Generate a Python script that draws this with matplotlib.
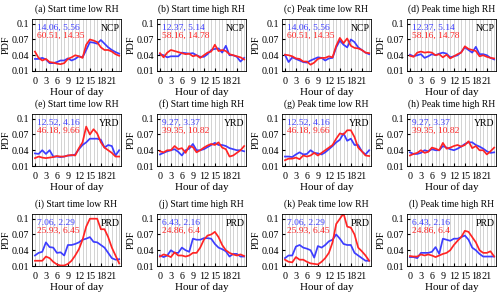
import matplotlib
matplotlib.use("Agg")
import matplotlib.pyplot as plt
import numpy as np

plt.rcParams['font.family'] = ['Liberation Serif', 'DejaVu Serif']

hours = list(range(24))

titles = ["(a) Start time low RH", "(b) Start time high RH", "(c) Peak time low RH", "(d) Peak time high RH",
          "(e) Start time low RH", "(f) Start time high RH", "(g) Peak time low RH", "(h) Peak time high RH",
          "(i) Start time low RH", "(j) Start time high RH", "(k) Peak time low RH", "(l) Peak time high RH"]
regions = ["NCP"] * 4 + ["YRD"] * 4 + ["PRD"] * 4
blue_text = ["14.06, 5.56", "12.37, 5.14", "14.06, 5.56", "12.37, 5.14",
             "12.52, 4.16", "9.27, 3.37", "12.52, 4.16", "9.27, 3.37",
             "7.06, 2.29", "6.43, 2.16", "7.06, 2.29", "6.43, 2.16"]
red_text = ["60.51, 14.35", "58.16, 14.78", "60.51, 14.35", "58.16, 14.78",
            "46.18, 9.66", "39.35, 10.82", "46.18, 9.66", "39.35, 10.82",
            "25.93, 6.45", "24.86, 6.4", "25.93, 6.45", "24.86, 6.4"]

blue_a = [0.033,0.033,0.035,0.032,0.025,0.025,0.027,0.030,0.030,0.034,0.030,0.033,0.038,0.036,0.050,0.065,0.064,0.062,0.069,0.062,0.055,0.050,0.046,0.043]
red_a = [0.047,0.035,0.030,0.033,0.027,0.026,0.024,0.023,0.025,0.033,0.036,0.040,0.038,0.035,0.060,0.070,0.068,0.065,0.055,0.050,0.050,0.047,0.042,0.039]
blue_b = [0.042,0.040,0.036,0.038,0.038,0.038,0.045,0.044,0.043,0.044,0.040,0.037,0.037,0.042,0.050,0.052,0.053,0.045,0.058,0.040,0.040,0.037,0.028,0.035]
red_b = [0.044,0.036,0.045,0.050,0.048,0.046,0.044,0.042,0.043,0.038,0.040,0.035,0.040,0.045,0.047,0.060,0.048,0.050,0.048,0.042,0.040,0.038,0.036,0.032]
blue_c = [0.041,0.027,0.036,0.033,0.030,0.027,0.026,0.030,0.033,0.036,0.035,0.030,0.034,0.035,0.055,0.068,0.060,0.055,0.070,0.065,0.055,0.050,0.045,0.042]
red_c = [0.041,0.040,0.038,0.034,0.033,0.028,0.028,0.022,0.026,0.033,0.035,0.035,0.038,0.036,0.058,0.073,0.063,0.072,0.058,0.054,0.053,0.050,0.045,0.044]
blue_d = [0.041,0.038,0.040,0.042,0.035,0.038,0.042,0.040,0.043,0.045,0.043,0.036,0.038,0.040,0.046,0.055,0.050,0.045,0.056,0.042,0.042,0.040,0.035,0.032]
red_d = [0.039,0.037,0.045,0.047,0.045,0.046,0.045,0.040,0.042,0.036,0.041,0.034,0.038,0.042,0.045,0.057,0.052,0.050,0.048,0.038,0.040,0.037,0.035,0.034]
blue_e = [0.034,0.033,0.040,0.033,0.040,0.028,0.028,0.027,0.028,0.030,0.030,0.032,0.042,0.050,0.055,0.062,0.062,0.062,0.060,0.045,0.050,0.048,0.030,0.040]
red_e = [0.025,0.028,0.026,0.025,0.026,0.027,0.029,0.028,0.028,0.030,0.031,0.030,0.044,0.055,0.085,0.070,0.080,0.072,0.055,0.045,0.040,0.035,0.028,0.028]
blue_f = [0.032,0.035,0.038,0.040,0.042,0.037,0.030,0.040,0.043,0.052,0.040,0.040,0.042,0.046,0.050,0.054,0.050,0.050,0.048,0.044,0.042,0.040,0.040,0.038]
red_f = [0.038,0.036,0.040,0.040,0.048,0.042,0.044,0.035,0.048,0.046,0.036,0.040,0.045,0.049,0.052,0.050,0.055,0.045,0.042,0.028,0.030,0.035,0.040,0.048]
blue_g = [0.028,0.028,0.027,0.032,0.036,0.032,0.033,0.040,0.035,0.034,0.032,0.036,0.042,0.048,0.055,0.060,0.072,0.058,0.062,0.050,0.050,0.038,0.032,0.040]
red_g = [0.021,0.024,0.024,0.026,0.023,0.030,0.028,0.030,0.035,0.030,0.035,0.040,0.045,0.050,0.062,0.072,0.070,0.078,0.078,0.065,0.045,0.038,0.030,0.029]
blue_h = [0.036,0.033,0.033,0.035,0.040,0.038,0.042,0.040,0.040,0.048,0.045,0.042,0.040,0.043,0.047,0.052,0.055,0.055,0.050,0.047,0.043,0.038,0.035,0.036]
red_h = [0.030,0.033,0.035,0.040,0.035,0.037,0.045,0.043,0.040,0.054,0.043,0.045,0.048,0.050,0.047,0.050,0.057,0.044,0.048,0.040,0.040,0.032,0.038,0.045]
blue_i = [0.030,0.035,0.037,0.055,0.046,0.045,0.035,0.036,0.030,0.050,0.050,0.052,0.055,0.060,0.062,0.065,0.056,0.055,0.050,0.045,0.035,0.025,0.022,0.023]
red_i = [0.020,0.020,0.020,0.028,0.025,0.018,0.013,0.011,0.011,0.014,0.020,0.030,0.042,0.060,0.085,0.100,0.100,0.100,0.080,0.080,0.065,0.045,0.030,0.015]
blue_j = [0.030,0.027,0.030,0.040,0.035,0.035,0.045,0.040,0.037,0.062,0.060,0.060,0.063,0.063,0.062,0.052,0.045,0.042,0.038,0.028,0.033,0.033,0.028,0.028]
red_j = [0.028,0.032,0.030,0.027,0.036,0.030,0.030,0.028,0.030,0.035,0.035,0.045,0.060,0.068,0.070,0.075,0.065,0.050,0.040,0.035,0.032,0.030,0.032,0.029]
blue_k = [0.025,0.030,0.030,0.047,0.050,0.045,0.043,0.040,0.026,0.048,0.045,0.050,0.057,0.060,0.070,0.062,0.052,0.050,0.050,0.035,0.030,0.025,0.020,0.020]
red_k = [0.022,0.018,0.017,0.027,0.022,0.022,0.018,0.015,0.014,0.013,0.018,0.025,0.035,0.055,0.090,0.100,0.110,0.085,0.083,0.070,0.045,0.038,0.030,0.020]
blue_l = [0.027,0.027,0.025,0.035,0.035,0.035,0.037,0.046,0.033,0.062,0.060,0.058,0.062,0.062,0.065,0.068,0.060,0.045,0.040,0.033,0.028,0.028,0.028,0.028]
red_l = [0.029,0.028,0.028,0.032,0.030,0.032,0.030,0.027,0.030,0.033,0.035,0.040,0.050,0.058,0.065,0.077,0.075,0.065,0.055,0.040,0.035,0.035,0.038,0.028]

blues = [blue_a, blue_b, blue_c, blue_d, blue_e, blue_f, blue_g, blue_h, blue_i, blue_j, blue_k, blue_l]
reds = [red_a, red_b, red_c, red_d, red_e, red_f, red_g, red_h, red_i, red_j, red_k, red_l]

BLUE = "#3d3dff"
RED = "#ff2424"

W, H = 500, 297
fig = plt.figure(figsize=(5.0, 2.97), dpi=100)
lefts = [32, 157, 282, 407]
tops = [19, 114, 214]
aw, ah = 89, 52

for i in range(12):
    r, c = divmod(i, 4)
    ax = fig.add_axes([lefts[c] / W, (H - tops[r] - ah) / H, aw / W, ah / H])
    ax.set_xlim(-0.8, 23.5)
    ax.set_ylim(0.01, 0.109)
    ax.set_xticks(range(0, 22, 3))
    ax.set_xticks(range(0, 24), minor=True)
    ax.set_yticks([0.01, 0.04, 0.07, 0.1])
    ax.set_yticklabels(["0.01", "0.04", "0.07", "0.1"])
    ax.grid(True, which='both', axis='x', color='#cccccc', linewidth=0.6)
    ax.set_axisbelow(True)
    ax.tick_params(axis='y', which='major', direction='in', length=2, labelsize=7.2, pad=2)
    ax.tick_params(axis='x', which='major', direction='in', length=2, labelsize=7.3, pad=4)
    ax.tick_params(axis='x', which='minor', length=0)
    ax.plot(hours, blues[i], color=BLUE, linewidth=1.25)
    ax.plot(hours, reds[i], color=RED, linewidth=1.25)
    ax.set_title(titles[i], fontsize=6.9, pad=5)
    ax.set_xlabel("Hour of day", fontsize=8, labelpad=1.5)
    ax.set_ylabel("PDF", fontsize=7.3, labelpad=0.5)
    ax.text(0.06, 0.83, blue_text[i], transform=ax.transAxes, color=BLUE, fontsize=6.8, va='center', ha='left')
    ax.text(0.06, 0.68, red_text[i], transform=ax.transAxes, color=RED, fontsize=6.8, va='center', ha='left')
    ax.text(0.985, 0.82, regions[i], transform=ax.transAxes, color='black', fontsize=7, va='center', ha='right')
    for s in ax.spines.values():
        s.set_linewidth(0.6)

fig.savefig("out.png", dpi=100)
